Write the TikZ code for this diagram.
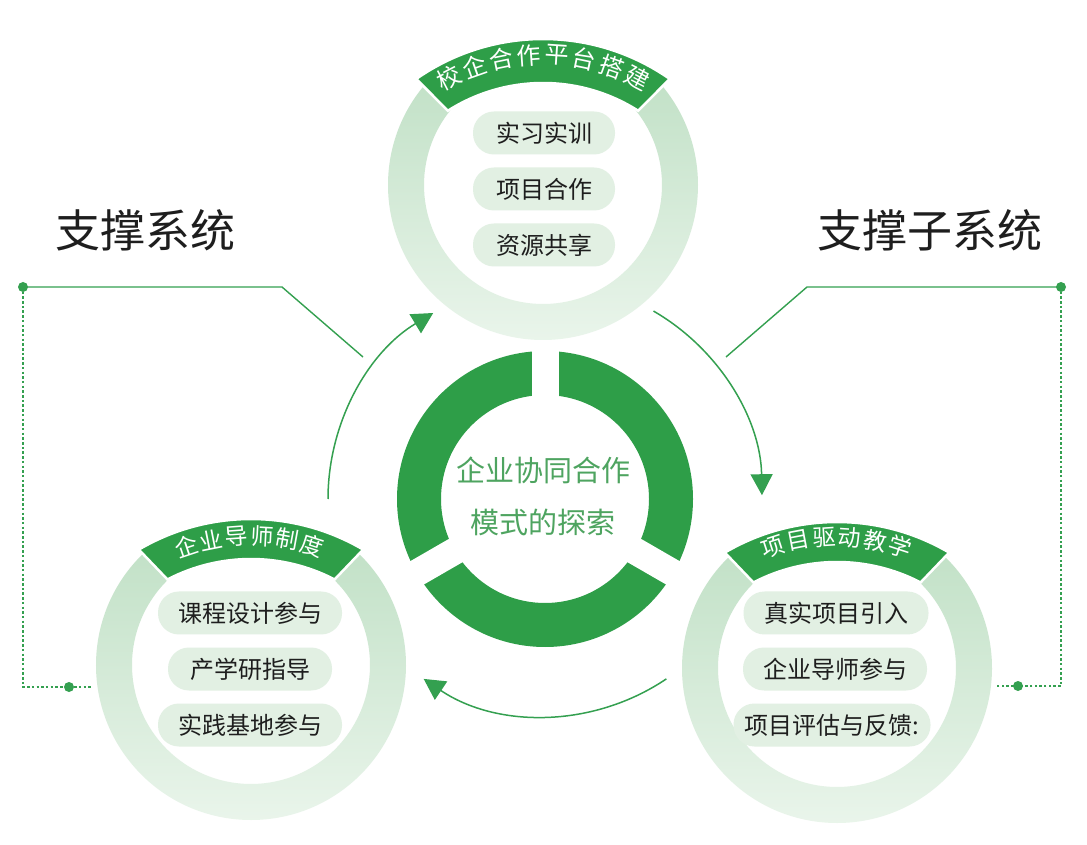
\documentclass[tikz,border=0pt]{standalone}
\usepackage{fontspec}
\setmainfont{Noto Sans CJK SC}
\usetikzlibrary{arrows.meta}
\definecolor{dkgreen}{RGB}{46,158,72}
\definecolor{lngreen}{RGB}{52,160,80}
\definecolor{pillfill}{RGB}{226,240,227}
\definecolor{ringtop}{RGB}{194,225,199}
\definecolor{ringbot}{RGB}{236,246,237}
\definecolor{txtgreen}{RGB}{78,164,96}
\definecolor{txtdark}{RGB}{30,30,30}
\newcommand{\ringarc}[3]{%
  \shade[top color=ringtop, bottom color=ringbot]
    ([shift={(#2:155)}]#1) arc[start angle=#2, end angle=#3, radius=155]
    -- ([shift={(#3:119)}]#1) arc[start angle=#3, end angle=#2, radius=119] -- cycle;}
\newcommand{\bannershape}[6]{%
  \fill[dkgreen, draw=white, line width=2.5pt]
    ([shift={(#2:221)}]#1) arc[start angle=#2, end angle=#3, radius=221]
    -- ([shift={(#5:#6)}]#1) arc[start angle=#5, end angle=#4, radius=#6] -- cycle;}
\begin{document}
\begin{tikzpicture}[x=1pt,y=1pt,
  pill/.style={fill=pillfill, rounded corners=21pt, minimum height=43pt, inner sep=0pt,
    font=\fontsize{24}{24}\selectfont, text=txtdark},
  bannerchar/.style={text=white, inner sep=0pt},
  dotnode/.style={circle, fill=lngreen, minimum size=10pt, inner sep=0pt},
  conn/.style={draw=lngreen, line width=1.4pt},
  dotconn/.style={draw=lngreen, line width=1.4pt, dash pattern=on 2.5pt off 2.2pt},
  cyc/.style={draw=lngreen, line width=1.5pt, -{Triangle[length=21pt,width=22pt]}},
  title/.style={font=\fontsize{45}{45}\selectfont, text=txtdark, inner sep=0pt},
]
\useasboundingbox (0,0) rectangle (1087,844);
\fill[white] (0,0) rectangle (1087,844);

% centres
\coordinate (C) at (545,345);
\coordinate (T) at (543,659);
\coordinate (BT) at (543,584);
\coordinate (L) at (251,179);
\coordinate (BL) at (251,104);
\coordinate (R) at (837,176);
\coordinate (BR) at (837,101);

% central ring
\fill[dkgreen, even odd rule] (C) circle[radius=148] circle[radius=104];
\foreach \a in {90,210,330} \draw[white, line width=27pt] (C) -- ++(\a:153);
\node[text=txtgreen, font=\fontsize{29}{29}\selectfont] (ct1) at (543,374) {企业协同合作};
\node[text=txtgreen, font=\fontsize{29}{29}\selectfont] (ct2) at (543,322) {模式的探索};

% outer rings
\ringarc{T}{137}{403}
\ringarc{L}{131}{409}
\ringarc{R}{131}{409}

% banners
\bannershape{BT}{125}{55}{122.5}{57.5}{177}
\bannershape{BL}{120.5}{59.5}{117.5}{62.5}{181}
\bannershape{BR}{120.5}{59.5}{117.5}{62.5}{181}

\foreach \ch [count=\i from 0] in {校,企,合,作,平,台,搭,建}
  \node[bannerchar, font=\fontsize{24}{24}\selectfont, rotate={117.3-\i*7.8-90}]
    at ([shift={({117.3-\i*7.8}:205)}]BT) {\ch};
\foreach \ch [count=\i from 0] in {企,业,导,师,制,度}
  \node[bannerchar, font=\fontsize{23}{23}\selectfont, rotate={108.5-\i*7.2-90}]
    at ([shift={({108.5-\i*7.2}:204)}]BL) {\ch};
\foreach \ch [count=\i from 0] in {项,目,驱,动,教,学}
  \node[bannerchar, font=\fontsize{23}{23}\selectfont, rotate={108-\i*7.2-90}]
    at ([shift={({108-\i*7.2}:206)}]BR) {\ch};

% pills
\node[pill, minimum width=142pt] (p11) at (544,711) {实习实训};
\node[pill, minimum width=142pt] (p12) at (544,655) {项目合作};
\node[pill, minimum width=142pt] (p13) at (544,599) {资源共享};
\node[pill, minimum width=184pt] (p21) at (250,231) {课程设计参与};
\node[pill, minimum width=164pt] (p22) at (250,175) {产学研指导};
\node[pill, minimum width=184pt] (p23) at (250,119) {实践基地参与};
\node[pill, minimum width=185pt] (p31) at (836,231) {真实项目引入};
\node[pill, minimum width=184pt] (p32) at (835,175) {企业导师参与};
\node[pill, minimum width=197pt] (p33) at (832,119) {项目评估与反馈:};

% cycle arrows
\coordinate (a1s) at ([shift={(180:217)}]C);
\coordinate (a2s) at ([shift={(60:217)}]C);
\coordinate (a3s) at ([shift={(304:217)}]C);
\draw[cyc] (a1s) arc[start angle=180, end angle=121, radius=217];
\draw[cyc] (a2s) arc[start angle=60, end angle=1, radius=217];
\draw[cyc] (a3s) arc[start angle=304, end angle=236, radius=217];

% titles
\node[title] (t1) at (145,614) {支撑系统};
\node[title] (t2) at (930,614) {支撑子系统};

% left connector
\node[dotnode] (dl1) at (23,557) {};
\coordinate (kl1) at (282,557);
\coordinate (el1) at (363,487);
\coordinate (kl2) at (23,157);
\coordinate (el2) at (92,157);
\draw[conn] (dl1.center) -- (kl1) -- (el1);
\draw[dotconn] (dl1.center) -- (kl2) -- (el2);
\node[dotnode] (dl2) at (69,157) {};

% right connector
\node[dotnode] (dr1) at (1061,557) {};
\coordinate (kr1) at (807,557);
\coordinate (er1) at (726,487);
\coordinate (kr2) at (1061,158);
\coordinate (er2) at (997,158);
\draw[conn] (dr1.center) -- (kr1) -- (er1);
\draw[dotconn] (dr1.center) -- (kr2) -- (er2);
\node[dotnode] (dr2) at (1018,158) {};
\end{tikzpicture}
\end{document}
